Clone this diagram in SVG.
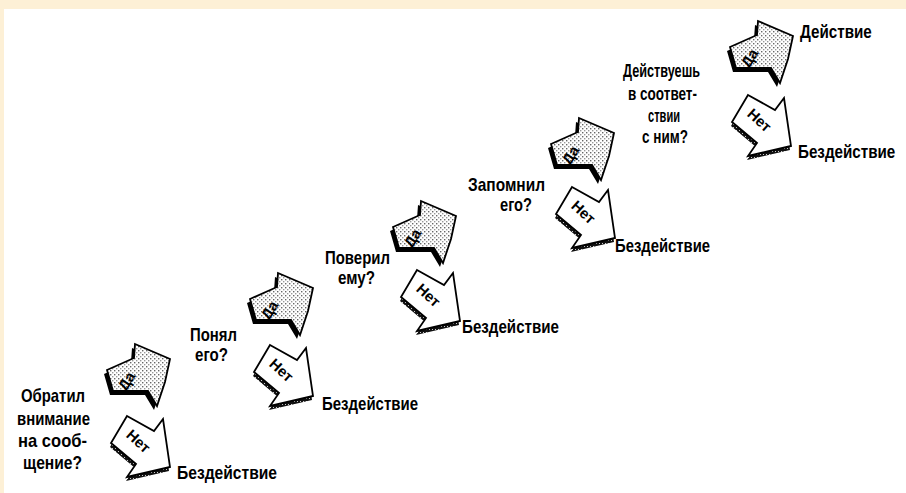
<svg xmlns="http://www.w3.org/2000/svg" width="906" height="493" viewBox="0 0 906 493">
<style>
.t{font-family:"Liberation Sans",Arial,sans-serif;font-size:19px;font-weight:bold;fill:#000}
.a{font-family:"Liberation Sans",Arial,sans-serif;font-size:15px;font-weight:bold;fill:#000;text-anchor:middle}
.da{fill:url(#dots);stroke:#000;stroke-width:1.8;stroke-linejoin:miter}
.net{fill:#fff;stroke:#000;stroke-width:1.8;stroke-linejoin:miter}
.sh{fill:#000}
.shn{fill:url(#dk)}
</style>
<defs>
<pattern id="dots" width="4" height="4" patternUnits="userSpaceOnUse">
<rect width="4" height="4" fill="#fff"/>
<rect x="0" y="0" width="1.4" height="1.4" fill="#666"/>
<rect x="2" y="2" width="1.4" height="1.4" fill="#999"/>
</pattern>
<pattern id="dk" width="3" height="3" patternUnits="userSpaceOnUse">
<rect width="3" height="3" fill="#111"/>
<rect x="1" y="1" width="1" height="1" fill="#ccc"/>
</pattern>
<path id="daS" d="M-27,24 L0,12 L1,-2 L36,13 L31,36 L23,60 L14,45 L-21,45 Z"/>
<path id="netS" d="M0,0 L27,15 L36,3 L43,51 L0,61 L9,48 L-16,27 Z"/>
</defs>
<rect x="0" y="0" width="906" height="493" fill="#fff"/>
<rect x="0" y="0" width="906" height="9" fill="#fdf0d6"/>
<rect x="0" y="0" width="4" height="493" fill="#fdf0d6"/>

<g id="connectors"></g>

<g id="q1">
<text class="t" x="21" y="402" textLength="64" lengthAdjust="spacingAndGlyphs">Обратил</text>
<text class="t" x="17" y="425" textLength="73" lengthAdjust="spacingAndGlyphs">внимание</text>
<text class="t" x="18" y="447" textLength="69" lengthAdjust="spacingAndGlyphs">на сооб-</text>
<text class="t" x="23" y="469" textLength="59" lengthAdjust="spacingAndGlyphs">щение?</text>
</g>
<g id="yes1" transform="translate(134,346)">
<use href="#daS" class="sh" transform="translate(-3,4)"/>
<use href="#daS" class="da"/>
<text class="a" transform="translate(-3,38) rotate(-58)">Да</text>
</g>
<g id="no1" transform="translate(127,416)">
<use href="#netS" class="shn" transform="translate(-1,4)"/>
<use href="#netS" class="net"/>
<text class="a" transform="translate(8,29) rotate(42)">Нет</text>
</g>
<g id="inaction1"><text class="t" x="177" y="479" textLength="100" lengthAdjust="spacingAndGlyphs">Бездействие</text></g>

<g id="q2">
<text class="t" x="190" y="341" textLength="47" lengthAdjust="spacingAndGlyphs">Понял</text>
<text class="t" x="195" y="361" textLength="33" lengthAdjust="spacingAndGlyphs">его?</text>
</g>
<g id="yes2" transform="translate(277,275)">
<use href="#daS" class="sh" transform="translate(-3,4)"/>
<use href="#daS" class="da"/>
<text class="a" transform="translate(-3,38) rotate(-58)">Да</text>
</g>
<g id="no2" transform="translate(270,345)">
<use href="#netS" class="shn" transform="translate(-1,4)"/>
<use href="#netS" class="net"/>
<text class="a" transform="translate(8,29) rotate(42)">Нет</text>
</g>
<g id="inaction2"><text class="t" x="322" y="410" textLength="96" lengthAdjust="spacingAndGlyphs">Бездействие</text></g>

<g id="q3">
<text class="t" x="325" y="264" textLength="65" lengthAdjust="spacingAndGlyphs">Поверил</text>
<text class="t" x="338" y="284" textLength="37" lengthAdjust="spacingAndGlyphs">ему?</text>
</g>
<g id="yes3" transform="translate(420,203)">
<use href="#daS" class="sh" transform="translate(-3,4)"/>
<use href="#daS" class="da"/>
<text class="a" transform="translate(-3,38) rotate(-58)">Да</text>
</g>
<g id="no3" transform="translate(417,270)">
<use href="#netS" class="shn" transform="translate(-1,4)"/>
<use href="#netS" class="net"/>
<text class="a" transform="translate(8,29) rotate(42)">Нет</text>
</g>
<g id="inaction3"><text class="t" x="462" y="333" textLength="97" lengthAdjust="spacingAndGlyphs">Бездействие</text></g>

<g id="q4">
<text class="t" x="468" y="191" textLength="77" lengthAdjust="spacingAndGlyphs">Запомнил</text>
<text class="t" x="500" y="211" textLength="32" lengthAdjust="spacingAndGlyphs">его?</text>
</g>
<g id="yes4" transform="translate(578,120)">
<use href="#daS" class="sh" transform="translate(-3,4)"/>
<use href="#daS" class="da"/>
<text class="a" transform="translate(-3,38) rotate(-58)">Да</text>
</g>
<g id="no4" transform="translate(572,187)">
<use href="#netS" class="shn" transform="translate(-1,4)"/>
<use href="#netS" class="net"/>
<text class="a" transform="translate(8,29) rotate(42)">Нет</text>
</g>
<g id="inaction4"><text class="t" x="615" y="252" textLength="95" lengthAdjust="spacingAndGlyphs">Бездействие</text></g>

<g id="q5">
<text class="t" x="623" y="77" textLength="77" lengthAdjust="spacingAndGlyphs">Действуешь</text>
<text class="t" x="628" y="100" textLength="69" lengthAdjust="spacingAndGlyphs">в соответ-</text>
<text class="t" x="648" y="122" textLength="32" lengthAdjust="spacingAndGlyphs">ствии</text>
<text class="t" x="642" y="143" textLength="46" lengthAdjust="spacingAndGlyphs">с ним?</text>
</g>
<g id="yes5" transform="translate(757,23)">
<use href="#daS" class="sh" transform="translate(-3,4)"/>
<use href="#daS" class="da"/>
<text class="a" transform="translate(-3,38) rotate(-58)">Да</text>
</g>
<g id="no5" transform="translate(748,95)">
<use href="#netS" class="shn" transform="translate(-1,4)"/>
<use href="#netS" class="net"/>
<text class="a" transform="translate(8,29) rotate(42)">Нет</text>
</g>
<g id="action"><text class="t" transform="translate(800,38) scale(0.8,1)">Действие</text></g>
<g id="inaction5"><text class="t" transform="translate(798,158) scale(0.8,1)">Бездействие</text></g>
</svg>
